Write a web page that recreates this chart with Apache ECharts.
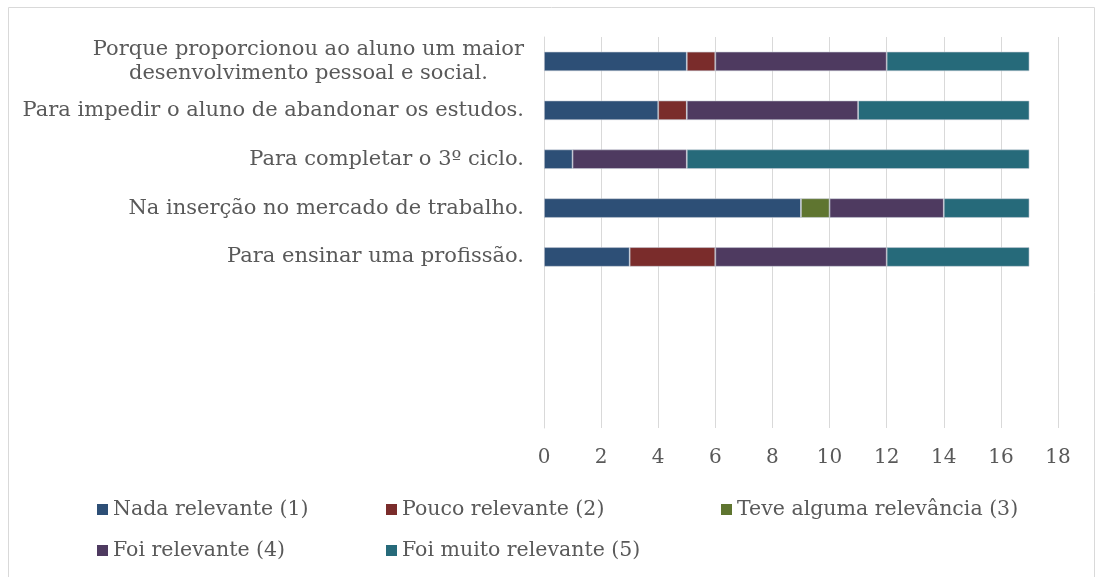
<!DOCTYPE html>
<html>
<head>
<meta charset="utf-8">
<script src="https://cdn.jsdelivr.net/npm/echarts@6/dist/echarts.min.js"></script>
<style>
  html, body { margin: 0; padding: 0; background: #fff; }
  #chart { width: 1099px; height: 577px; }
</style>
</head>
<body>
<div id="chart"></div>
<script>
var chart = echarts.init(document.getElementById('chart'));

// categorias (de cima para baixo)
var categories = [
    'Porque proporcionou ao aluno um maior\ndesenvolvimento pessoal e social.',
    'Para impedir o aluno de abandonar os estudos.',
    'Para completar o 3º ciclo.',
    'Na inserção no mercado de trabalho.',
    'Para ensinar uma profissão.'
];
var seriesNames = ['Nada relevante (1)', 'Pouco relevante (2)', 'Teve alguma relevância (3)', 'Foi relevante (4)', 'Foi muito relevante (5)'];
var nada   = [5, 4, 1, 9, 3];
var pouco  = [1, 1, 0, 0, 3];
var teve   = [0, 0, 0, 1, 0];
var foi    = [6, 6, 4, 4, 6];
var muito  = [5, 6, 12, 3, 5];
var xTicks = [0, 2, 4, 6, 8, 10, 12, 14, 16, 18];

var colors = ['#2d4f76', '#7a2c2b', '#5f7530', '#4e3a60', '#266a7a'];
var values = [nada, pouco, teve, foi, muito];

// o Excel deixa 3 linhas vazias por baixo
var yCats = categories.concat([' ', '  ', '   ']);

var textColor = '#595959';
var font = 'DejaVu Serif';

var series = seriesNames.map(function (name, i) {
    return {
        name: name,
        type: 'bar',
        stack: 'total',
        barWidth: '40%',
        itemStyle: { color: colors[i], borderColor: 'rgba(200,205,215,0.7)', borderWidth: 0.8 },
        data: values[i]
    };
});

function legendCol(names, left) {
    return {
        orient: 'vertical',
        left: left,
        top: 499,
        itemWidth: 11,
        itemHeight: 11,
        itemGap: 20,
        icon: 'rect',
        padding: 0,
        itemStyle: { borderWidth: 0 },
        textStyle: { fontFamily: font, fontSize: 20.5, color: textColor },
        data: names
    };
}

var option = {
    animation: false,
    color: colors,
    graphic: [{
        type: 'rect',
        shape: { x: 8.5, y: 7.5, width: 1086, height: 575 },
        style: { fill: 'none', stroke: '#d9d9d9', lineWidth: 1 },
        silent: true
    }],
    legend: [
        legendCol([seriesNames[0], seriesNames[3]], 97),
        legendCol([seriesNames[1], seriesNames[4]], 386),
        legendCol([seriesNames[2]], 721)
    ],
    grid: { left: 544, right: 41, top: 37, bottom: 149, containLabel: false },
    xAxis: {
        type: 'value',
        min: 0,
        max: 18,
        interval: 2,
        axisLine: { show: false },
        axisTick: { show: false },
        splitLine: { lineStyle: { color: '#d9d9d9', width: 1 } },
        axisLabel: { fontFamily: font, fontSize: 20, color: textColor, margin: 20,
            formatter: function (v) { return xTicks.indexOf(v) >= 0 ? String(v) : ''; } }
    },
    yAxis: {
        type: 'category',
        inverse: true,
        data: yCats,
        axisLine: { show: true, lineStyle: { color: '#d9d9d9', width: 1 } },
        axisTick: { show: false },
        axisLabel: {
            fontFamily: font, fontSize: 21, color: textColor, margin: 20,
            lineHeight: 24,
            formatter: function (v) { return '{c|' + v.split('\n').join('}\n{c|') + '}'; },
            rich: { c: { fontFamily: font, fontSize: 21, color: textColor, lineHeight: 24, align: 'center' } }
        }
    },
    series: series
};

chart.setOption(option);
</script>
</body>
</html>
